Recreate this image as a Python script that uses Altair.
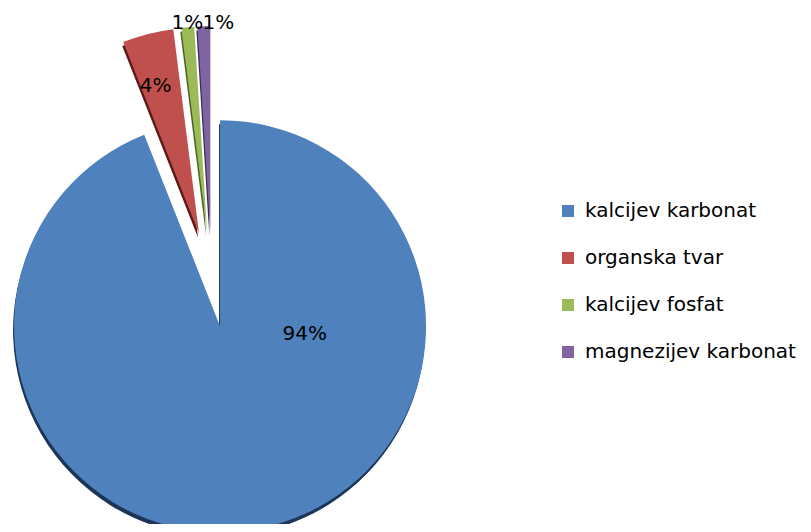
import altair as alt
import pandas as pd

categories = ["kalcijev karbonat", "organska tvar", "kalcijev fosfat", "magnezijev karbonat"]
values = [94, 4, 1, 1]
labels = ["94%", "4%", "1%", "1%"]
colors = ["#4F81BD", "#C0504D", "#9BBB59", "#8064A2"]
shades = ["#1c3557", "#5e1a18", "#4a6224", "#3b2b55"]
explode = [43, 52, 52, 52]
label_r = [85, 154, 210, 209]
label_turn = [-74, -2, 0, 4]

CX, CY, R = 204, 276, 206

df = pd.DataFrame({
    "order": list(range(len(categories))),
    "cat": categories,
    "value": values,
    "label": labels,
    "shade": shades,
    "explode": explode,
    "lr": label_r,
    "lt": label_turn,
})

base = (
    alt.Chart(df)
    .transform_window(cum="sum(value)", sort=[alt.SortField("order")], frame=[None, 0])
    .transform_joinaggregate(total="sum(value)")
    .transform_calculate(
        t0="2*PI*(datum.cum - datum.value)/datum.total",
        t1="2*PI*datum.cum/datum.total",
    )
    .transform_calculate(mid="(datum.t0 + datum.t1)/2")
    .transform_calculate(
        cx=f"{CX} + datum.explode*sin(datum.mid)",
        cy=f"{CY} - datum.explode*cos(datum.mid)",
    )
    .transform_calculate(
        sx="datum.cx - 1",
        sy="datum.cy + 4",
        la="datum.mid + datum.lt*PI/180",
    )
    .transform_calculate(
        lx="datum.cx + datum.lr*sin(datum.la)",
        ly="datum.cy - datum.lr*cos(datum.la)",
    )
)

shadow = base.mark_arc(radius=R).encode(
    x=alt.X("sx:Q", scale=None),
    y=alt.Y("sy:Q", scale=None),
    theta=alt.Theta("t0:Q", scale=None),
    theta2="t1:Q",
    color=alt.Color("shade:N", scale=None, legend=None),
)

slices = base.mark_arc(radius=R).encode(
    x=alt.X("cx:Q", scale=None),
    y=alt.Y("cy:Q", scale=None),
    theta=alt.Theta("t0:Q", scale=None),
    theta2="t1:Q",
    color=alt.Color(
        "cat:N",
        scale=alt.Scale(domain=categories, range=colors),
        legend=alt.Legend(
            orient="none",
            legendX=550,
            legendY=193,
            title=None,
            symbolType="square",
            symbolSize=144,
            symbolStrokeWidth=0,
            labelFontSize=20,
            labelFont="DejaVu Sans",
            labelColor="#000000",
            labelOffset=7,
            rowPadding=27,
            padding=0,
            labelLimit=400,
        ),
    ),
)

text = base.mark_text(
    fontSize=20, font="DejaVu Sans", color="#000000", align="center", baseline="middle"
).encode(
    x=alt.X("lx:Q", scale=None),
    y=alt.Y("ly:Q", scale=None),
    text="label:N",
)

chart = (
    alt.layer(shadow, slices, text)
    .resolve_scale(color="independent")
    .properties(width=795, height=516, padding=0, autosize="none")
    .configure_view(stroke=None)
)

chart.save("out.html", embed_options={"renderer": "svg", "actions": False})
